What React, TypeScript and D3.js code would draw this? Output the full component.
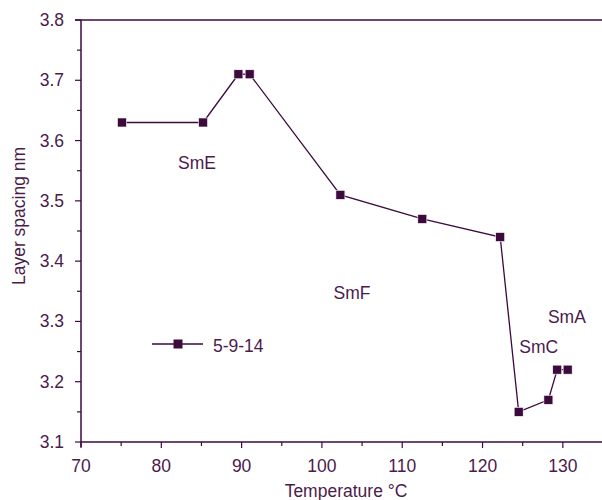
import React from "react";
import * as d3 from "d3";

const temperatures = [75.1, 85.2, 89.6, 91.0, 102.3, 112.5, 122.2, 124.5, 128.2, 129.3, 130.6];
const spacings = [3.63, 3.63, 3.71, 3.71, 3.51, 3.47, 3.44, 3.15, 3.17, 3.22, 3.22];
const xTicks = [70, 80, 90, 100, 110, 120, 130];
const yTicks = [3.1, 3.2, 3.3, 3.4, 3.5, 3.6, 3.7, 3.8];
const phaseLabels = ["SmE", "SmF", "SmA", "SmC"];
const phaseX = [84.45, 103.75, 130.5, 127.0];
const phaseY = [3.553, 3.337, 3.297, 3.248];
const seriesName = "5-9-14";

const W = 602, H = 500;
const M = { left: 81, right: 603, top: 20, bottom: 442 };
const COL = "#3d0a3d";
const TXT = "#4b1b4b";
const FONT = "'Liberation Sans', Arial, sans-serif";
const FS = 17.5;

export default function App() {
  const x = d3.scaleLinear().domain([70, 135]).range([M.left, M.right]);
  const y = d3.scaleLinear().domain([3.1, 3.8]).range([M.bottom, M.top]);
  const pts = temperatures.map((t, i) => [t, spacings[i]] as [number, number]);
  const line = d3.line<[number, number]>().x(d => x(d[0])).y(d => y(d[1]));
  const xMinor = d3.range(75, 135, 10);
  const yMinor = d3.range(3.15, 3.8, 0.1);
  const ms = 9;
  return (
    <svg width={W} height={H} style={{ position: "absolute", left: 0, top: 0 }} fontFamily={FONT}>
      <rect width={W} height={H} fill="#fff" />
      {/* axes */}
      <line x1={M.left} x2={M.left} y1={M.top} y2={M.bottom + 5} stroke={COL} strokeWidth={1.5} />
      <line x1={M.left} x2={W} y1={M.bottom} y2={M.bottom} stroke={COL} strokeWidth={1.5} />
      <line x1={M.left - 6} x2={W} y1={M.top} y2={M.top} stroke={COL} strokeWidth={1.5} />
      {xTicks.map(t => (
        <g key={"xt" + t}>
          <line x1={x(t)} x2={x(t)} y1={M.bottom} y2={M.bottom + 6} stroke={COL} strokeWidth={1.2} />
          <text x={x(t)} y={M.bottom + 30} textAnchor="middle" fontSize={FS} fill={TXT}>{t}</text>
        </g>
      ))}
      {xMinor.map(t => (
        <line key={"xm" + t} x1={x(t)} x2={x(t)} y1={M.bottom} y2={M.bottom + 4} stroke={COL} strokeWidth={1.2} />
      ))}
      {yTicks.map(t => (
        <g key={"yt" + t}>
          <line x1={M.left - 6} x2={M.left} y1={y(t)} y2={y(t)} stroke={COL} strokeWidth={1.2} />
          <text x={M.left - 17} y={y(t) + 6} textAnchor="end" fontSize={FS} fill={TXT}>{t.toFixed(1)}</text>
        </g>
      ))}
      {yMinor.map(t => (
        <line key={"ym" + t} x1={M.left - 4} x2={M.left} y1={y(t)} y2={y(t)} stroke={COL} strokeWidth={1.2} />
      ))}
      {/* axis titles */}
      <text x={346} y={497} textAnchor="middle" fontSize={FS} fill={TXT}>Temperature °C</text>
      <text transform={`translate(25,216) rotate(-90)`} textAnchor="middle" fontSize={FS} fill={TXT}>Layer spacing nm</text>
      {/* series */}
      <path d={line(pts) || ""} fill="none" stroke={COL} strokeWidth={1.3} />
      {pts.map((d, i) => (
        <rect key={"p" + i} x={x(d[0]) - ms / 2} y={y(d[1]) - ms / 2} width={ms} height={ms} fill={COL} stroke="#fff" strokeWidth={0.6} />
      ))}
      {/* phase labels */}
      {phaseLabels.map((l, i) => (
        <text key={l} x={x(phaseX[i])} y={y(phaseY[i])} textAnchor="middle" fontSize={FS} fill={TXT}>{l}</text>
      ))}
      {/* legend */}
      <line x1={152} x2={203} y1={344} y2={344} stroke={COL} strokeWidth={1.3} />
      <rect x={178 - ms / 2} y={344 - ms / 2} width={ms} height={ms} fill={COL} />
      <text x={213} y={352} fontSize={FS} fill={TXT}>{seriesName}</text>
    </svg>
  );
}
